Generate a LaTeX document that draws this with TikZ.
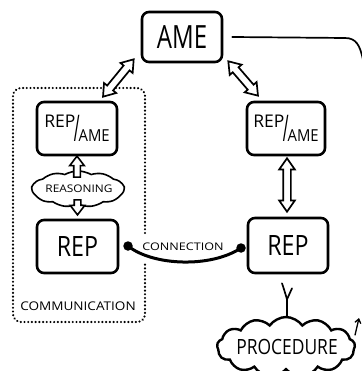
\documentclass[tikz,border=0pt]{standalone}
\usepackage{fontspec}
\setmainfont{Open Sans}
\usetikzlibrary{shapes.arrows,shapes.symbols,calc,arrows.meta}

% hollow arrow shape stretched between two named points
\newcommand\hollowlink[3]{%
  \path let \p1=($#3-#2$), \n1={atan2(\y1,\x1)}, \n2={veclen(\x1,\y1)} in
    node[#1, rotate=\n1, minimum height=\n2] at ($#2!0.5!#3$) {};}
% stacked REP/AME label
\newcommand\repame{\fontsize{17.5}{18}\selectfont REP\kern-1.5pt\raisebox{-14pt}{\scalebox{0.9}[2.1]{/}}\kern-1pt\raisebox{-14pt}{\fontsize{16.5}{17}\selectfont\scalebox{0.9}[1]{AME}}}

\begin{document}
\begin{tikzpicture}[x=1pt,y=-1pt,
  box/.style={draw, line width=2.6pt, rounded corners=7pt, inner sep=0pt},
  hollowdbl/.style={double arrow, draw, fill=white, line width=1.7pt,
    inner xsep=0pt, inner ysep=3pt, double arrow head extend=4pt,
    double arrow tip angle=70, minimum width=0pt},
  hollowone/.style={single arrow, draw, fill=white, line width=1.6pt,
    inner xsep=0pt, inner ysep=2.5pt, single arrow head extend=4pt,
    single arrow tip angle=75, minimum width=0pt},
  dot/.style={circle, fill, inner sep=0pt, minimum size=9.5pt},
  pen/.style={line width=1.7pt, line cap=round},
]
\fill[white] (0,0) rectangle (361,371);
\useasboundingbox (0,0) rectangle (361,371);

% group frame
\draw[line width=2.4pt, line cap=round, dash pattern=on 0.01pt off 3.7pt, rounded corners=8pt]
  (145,233) -- (145,88) -- (13,88) -- (13,322) -- (145,322) -- (145,263);
\node[font=\fontsize{12}{12}\selectfont, inner sep=0pt] (comm) at (78,306)
  {\scalebox{1.13}[1]{COMMUNICATION}};

% boxes
\node[box, minimum width=80pt, minimum height=50pt] (ame) at (182,37)
  {\scalebox{0.75}[1]{\fontsize{32}{32}\selectfont AME}};
\node[box, minimum width=80pt, minimum height=53pt] (lra) at (77,128.5) {\repame};
\node[box, minimum width=78pt, minimum height=53pt] (rra) at (286,128.5) {\repame};
\node[box, minimum width=81pt, minimum height=53pt] (rep1) at (77.5,246.5)
  {\scalebox{0.83}[1]{\fontsize{28}{28}\selectfont REP}};
\node[box, minimum width=80pt, minimum height=55pt] (rep2) at (288,245.5)
  {\scalebox{0.83}[1]{\fontsize{28}{28}\selectfont REP}};

% reasoning burst
\node[cloud, draw, line width=1.6pt, cloud puffs=11, cloud puff arc=60,
  minimum width=92pt, minimum height=36pt, inner sep=0pt] (reason) at (78,189) {};
\node[font=\fontsize{10.5}{12}\selectfont, inner sep=0pt] (reasontxt) at (79,189)
  {\scalebox{1.13}[1]{REASONING}};

% procedure cloud
\node[cloud, draw, line width=2.4pt, cloud puffs=13, cloud puff arc=110,
  minimum width=138pt, minimum height=60pt, inner sep=0pt] (proc) at (286,347) {};
\node[font=\fontsize{21}{21}\selectfont, inner sep=0pt] (proctxt) at (287,347)
  {\scalebox{0.83}[1]{PROCEDURE}};

% arrow end points
\coordinate (a1) at ($(lra.north)+(26,-4)$);
\coordinate (a2) at ($(ame.south west)+(-7,-4)$);
\coordinate (b1) at ($(rra.north)+(-28,-5)$);
\coordinate (b2) at ($(ame.south east)+(5,-2)$);
\coordinate (c1) at ($(rra.south)+(1,2)$);
\coordinate (c2) at ($(rep2.north)+(-1,-5)$);
\coordinate (r1) at ($(lra.south)+(0,23)$);
\coordinate (r2) at ($(lra.south)+(0,2)$);
\coordinate (r3) at ($(rep1.north)+(0,-21)$);
\coordinate (r4) at ($(rep1.north)+(0,-6)$);

\hollowlink{hollowdbl}{(a1)}{(a2)}
\hollowlink{hollowdbl}{(b1)}{(b2)}
\hollowlink{hollowdbl}{(c1)}{(c2)}
\hollowlink{hollowone}{(r1)}{(r2)}
\hollowlink{hollowone}{(r3)}{(r4)}

% connection
\node[dot] (d1) at (128,246) {};
\node[dot] (d2) at (241,248) {};
\draw[line width=3pt] (d1.center) .. controls ($(d1)+(25,20)$) and ($(d2)+(-30,20)$) .. (d2.center);
\node[font=\fontsize{10.5}{12}\selectfont, inner sep=0pt] (conn) at (183,247)
  {\scalebox{1.2}[1]{CONNECTION}};

% REP to procedure
\coordinate (yl) at ($(rep2.south)+(-6,9)$);
\coordinate (yr) at ($(rep2.south)+(4,14)$);
\coordinate (yj) at ($(rep2.south)+(-1,25)$);
\draw[pen] (yl) .. controls ($(yl)+(2,6)$) .. (yj) -- (yj |- proc.north);
\draw[pen] (yr) -- (yj);

% feedback line
\coordinate (f1) at ($(ame.east)+(9,0)$);
\draw[pen] (f1) -- (345,38) .. controls (356,38) and (360,45) .. (363,60) -- (366,90);
\coordinate (g1) at ($(proc.east)+(-1,-12)$);
\draw[pen, line width=1.3pt, -{Straight Barb[length=4pt,width=6pt]}] (g1) -- (359,318);
\end{tikzpicture}
\end{document}
